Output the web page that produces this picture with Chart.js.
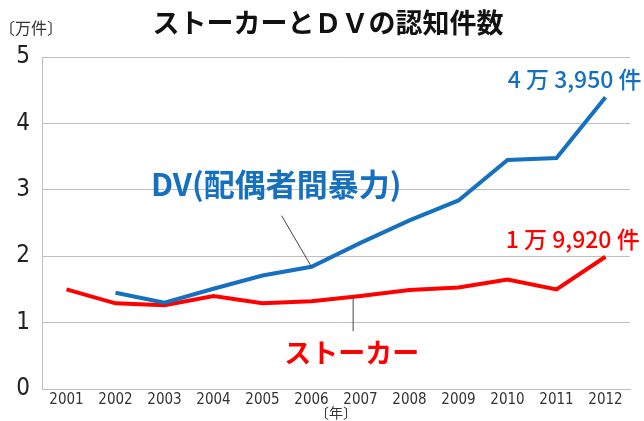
<!DOCTYPE html>
<html lang="ja">
<head>
<meta charset="UTF-8">
<title>ストーカーとＤＶの認知件数</title>
<script src="https://cdn.jsdelivr.net/npm/chart.js@4.4.1/dist/chart.umd.min.js"></script>
<style>
  html, body { margin: 0; padding: 0; background: #fff; }
  #wrap { width: 644px; height: 421px; }
</style>
</head>
<body>
<div id="wrap"><canvas id="chart"></canvas></div>
<script>
    // 単位: 万件
    var years = ["2001","2002","2003","2004","2005","2006","2007","2008","2009","2010","2011","2012"];
    var dv = [null,1.45,1.30,1.51,1.71,1.84,2.20,2.54,2.84,3.45,3.48,4.395];
    var stalker = [1.50,1.29,1.26,1.40,1.29,1.32,1.40,1.49,1.53,1.65,1.50,1.992];
    var yTicks = [0,1,2,3,4,5];

    var blue = "#1670c0";
    var red = "#ff0000";
    var jp = "'Noto Sans CJK JP', sans-serif";
    var narrow = "'Liberation Sans Narrow', 'DejaVu Sans Condensed', 'Liberation Sans', sans-serif";

    // タイトル・注記・引き出し線
    var notes = {
        id: "notes",
        afterDraw: function(chart){
            var c = chart.ctx, x = chart.scales.x, y = chart.scales.y;
            c.save();
            c.textBaseline = "middle";

            c.fillStyle = "#111";
            c.textAlign = "center";
            c.font = "bold 27px " + jp;
            c.fillText("ストーカーとＤＶの認知件数", 328, 23);

            c.fillStyle = "#333";
            c.textAlign = "left";
            c.font = "16px " + jp;
            c.fillText("〔万件〕", -1, 28);

            // leader lines
            c.strokeStyle = "#444";
            c.lineWidth = 1;
            c.beginPath();
            c.moveTo(x.getPixelForValue(4.39), y.getPixelForValue(2.61));
            c.lineTo(x.getPixelForValue(5), y.getPixelForValue(dv[5]));
            c.moveTo(x.getPixelForValue(5.85), y.getPixelForValue(1.38));
            c.lineTo(x.getPixelForValue(5.85), y.getPixelForValue(0.87));
            c.stroke();

            c.textAlign = "center";
            c.fillStyle = blue;
            c.font = "bold 31px " + jp;
            c.fillText("DV(配偶者間暴力)", x.getPixelForValue(4.28), y.getPixelForValue(3.09));
            c.fillStyle = red;
            c.font = "bold 27px " + jp;
            c.fillText("ストーカー", x.getPixelForValue(5.82), y.getPixelForValue(0.55));

            c.font = "500 23px " + jp;
            c.fillStyle = blue;
            c.fillText("4 万 3,950 件", x.getPixelForValue(10.37), y.getPixelForValue(4.67));
            c.fillStyle = red;
            c.fillText("1 万 9,920 件", x.getPixelForValue(10.33), y.getPixelForValue(2.26));
            c.restore();
        }
    };

    var ctx = document.getElementById("chart");
    var myChart = new Chart(ctx, {
        type: "line",
        data: {
            labels: years,
            datasets: [
                {
                    label: "DV(配偶者間暴力)",
                    data: dv,
                    borderColor: blue,
                    borderWidth: 4,
                    pointRadius: 0,
                    tension: 0,
                    fill: false
                },
                {
                    label: "ストーカー",
                    data: stalker,
                    borderColor: red,
                    borderWidth: 4,
                    pointRadius: 0,
                    tension: 0,
                    fill: false
                }
            ]
        },
        options: {
            responsive: true,
            maintainAspectRatio: false,
            animation: false,
            layout: { padding: { top: 57, right: 14, left: 0, bottom: 0 } },
            plugins: {
                legend: { display: false },
                tooltip: { enabled: false }
            },
            scales: {
                x: {
                    offset: true,
                    grid: { display: false, drawTicks: false },
                    border: { display: true, color: "#bfbfbf", width: 1 },
                    ticks: {
                        color: "#333",
                        padding: 2,
                        maxRotation: 0,
                        autoSkip: false,
                        font: { family: narrow, size: 15 }
                    },
                    title: {
                        display: true,
                        text: "〔年〕",
                        color: "#333",
                        padding: 0,
                        font: { family: jp, size: 14 }
                    },
                    afterFit: function(s){ s.height = 32; }
                },
                y: {
                    min: 0,
                    max: 5,
                    afterBuildTicks: function(s){ s.ticks = yTicks.map(function(v){ return {value: v}; }); },
                    grid: { color: "#bfbfbf", lineWidth: 1, drawTicks: false },
                    border: { display: true, color: "#bfbfbf", width: 1 },
                    ticks: {
                        color: "#222",
                        padding: 12,
                        font: { family: narrow, size: 24 }
                    },
                    afterFit: function(s){ s.width = 42; }
                }
            }
        },
        plugins: [notes]
    });
</script>
</body>
</html>
